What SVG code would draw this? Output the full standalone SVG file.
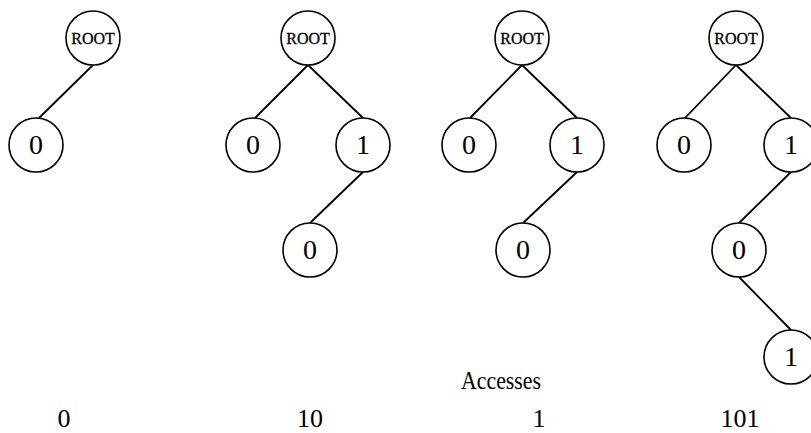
<svg xmlns="http://www.w3.org/2000/svg" width="811" height="433" viewBox="0 0 811 433">
  <style>
    .node circle { fill: #fff; stroke: #000; stroke-width: 1.6; }
    .node text { font-family: "Liberation Serif", "Times New Roman", serif; font-size: 28px; text-anchor: middle; fill: #000; }
    .node text.root { font-size: 16px; stroke: #000; stroke-width: 0.3; }
    .edges line { stroke: #000; stroke-width: 1.8; }
    .label { font-family: "Liberation Serif", "Times New Roman", serif; font-size: 26px; text-anchor: middle; fill: #000; }
  </style>
  <rect width="811" height="433" fill="#fff"/>

  <!-- connectors: parent bottom to child top -->
  <g id="edges" class="edges">
    <!-- tree 1 -->
    <line x1="93" y1="65" x2="39" y2="118"/>
    <!-- tree 2 -->
    <line x1="308" y1="65" x2="255" y2="118"/>
    <line x1="308" y1="65" x2="363" y2="118"/>
    <line x1="363" y1="172" x2="310" y2="223"/>
    <!-- tree 3 -->
    <line x1="522" y1="65" x2="470" y2="118"/>
    <line x1="522" y1="65" x2="577" y2="118"/>
    <line x1="577" y1="172" x2="523" y2="223"/>
    <!-- tree 4 -->
    <line x1="736" y1="65" x2="685" y2="118"/>
    <line x1="736" y1="65" x2="791" y2="118"/>
    <line x1="791" y1="172" x2="739" y2="223"/>
    <line x1="739" y1="277" x2="791" y2="330"/>
  </g>

  <!-- tree 1 -->
  <g id="t1-root" class="node"><circle cx="93" cy="38" r="27"/><text class="root" x="93" y="44">ROOT</text></g>
  <g id="t1-n0" class="node"><circle cx="36" cy="145" r="27"/><text x="36" y="154">0</text></g>

  <!-- tree 2 -->
  <g id="t2-root" class="node"><circle cx="308" cy="38" r="27"/><text class="root" x="308" y="44">ROOT</text></g>
  <g id="t2-n0" class="node"><circle cx="253" cy="145" r="27"/><text x="253" y="154">0</text></g>
  <g id="t2-n1" class="node"><circle cx="363" cy="145" r="27"/><text x="363" y="154">1</text></g>
  <g id="t2-n10" class="node"><circle cx="310" cy="250" r="27"/><text x="310" y="259">0</text></g>

  <!-- tree 3 -->
  <g id="t3-root" class="node"><circle cx="522" cy="38" r="27"/><text class="root" x="522" y="44">ROOT</text></g>
  <g id="t3-n0" class="node"><circle cx="469" cy="145" r="27"/><text x="469" y="154">0</text></g>
  <g id="t3-n1" class="node"><circle cx="577" cy="145" r="27"/><text x="577" y="154">1</text></g>
  <g id="t3-n10" class="node"><circle cx="523" cy="250" r="27"/><text x="523" y="259">0</text></g>

  <!-- tree 4 -->
  <g id="t4-root" class="node"><circle cx="736" cy="38" r="27"/><text class="root" x="736" y="44">ROOT</text></g>
  <g id="t4-n0" class="node"><circle cx="684" cy="145" r="27"/><text x="684" y="154">0</text></g>
  <g id="t4-n1" class="node"><circle cx="791" cy="145" r="27"/><text x="791" y="154">1</text></g>
  <g id="t4-n10" class="node"><circle cx="739" cy="250" r="27"/><text x="739" y="259">0</text></g>
  <g id="t4-n101" class="node"><circle cx="791" cy="357" r="27"/><text x="791" y="366">1</text></g>

  <!-- access labels -->
  <text class="label" x="501" y="389" font-size="24" textLength="80" lengthAdjust="spacingAndGlyphs">Accesses</text>
  <text class="label" x="64" y="427">0</text>
  <text class="label" x="310" y="427">10</text>
  <text class="label" x="539" y="427">1</text>
  <text class="label" x="740" y="427">101</text>
</svg>
